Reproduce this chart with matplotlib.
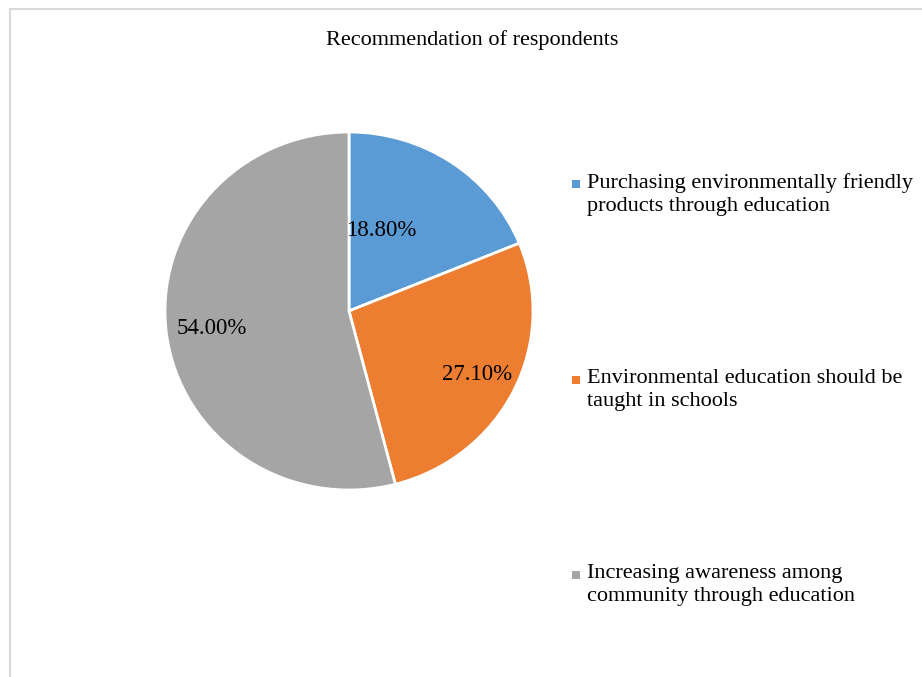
import matplotlib
matplotlib.use("Agg")
import matplotlib.pyplot as plt
from matplotlib.patches import Rectangle

# data
categories = ["Purchasing environmentally friendly\nproducts through education",
              "Environmental education should be\ntaught in schools",
              "Increasing awareness among\ncommunity through education"]
shares = [18.8, 27.1, 54.0]
pct_labels = ["18.80%", "27.10%", "54.00%"]
colors = ["#5b9bd5", "#ed7d31", "#a5a5a5"]

plt.rcParams['font.family'] = ['Liberation Serif', 'DejaVu Serif']

W, H = 922, 677
fig = plt.figure(figsize=(W / 100, H / 100), dpi=100)

# thin gray frame (runs off the right/bottom edge like the screenshot)
fig.patches.append(Rectangle((10 / W, -0.1), 1.2, 1 - 9 / H + 0.1,
                             transform=fig.transFigure, fill=False,
                             edgecolor="#d9d9d9", linewidth=1.5))

fig.text(472 / W, 1 - 40 / H, "Recommendation of respondents",
         ha="center", va="center", fontsize=16)

# pie axes: center ~ (349, 311) px, radius ~184 x 179 px
cx, cy, rx, ry = 349, 311, 184, 179
ax = fig.add_axes([(cx - rx) / W, 1 - (cy + ry) / H, 2 * rx / W, 2 * ry / H])
wedges, _ = ax.pie(shares, colors=colors, startangle=90, counterclock=False,
                   wedgeprops=dict(edgecolor="white", linewidth=2))
ax.set_aspect("auto")
ax.set_xlim(-1, 1)
ax.set_ylim(-1, 1)

# label spots (Excel best fit), in pie radius units
label_pos = [(0.174, 0.447), (0.696, -0.352), (-0.745, -0.095)]
for txt, (lx, ly) in zip(pct_labels, label_pos):
    ax.text(lx, ly, txt, ha="center", va="center", fontsize=16.5)

# legend on the right, widely spaced entries
legend_y = [184, 380, 575]
for lab, col, y in zip(categories, colors, legend_y):
    fig.patches.append(Rectangle((572 / W, 1 - (y + 4) / H), 8 / W, 8 / H,
                                 transform=fig.transFigure,
                                 facecolor=col, edgecolor="none"))
    fig.text(587 / W, 1 - (y - 11) / H, lab, ha="left", va="top",
             fontsize=16, linespacing=1.32)

fig.savefig("out.png", dpi=100)
